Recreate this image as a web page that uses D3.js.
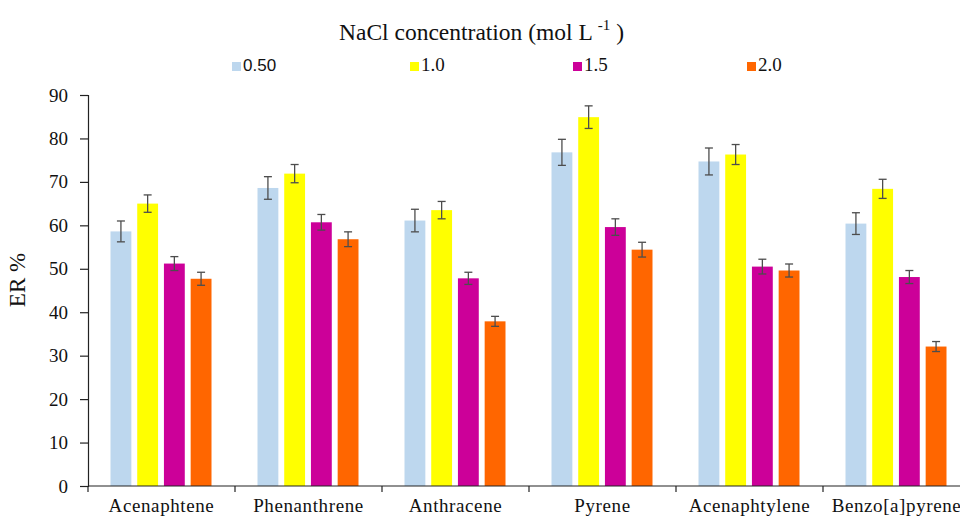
<!DOCTYPE html>
<html>
<head>
<meta charset="utf-8">
<script src="https://cdn.jsdelivr.net/npm/d3@7"></script>
<style>
  body { margin: 0; background: #fff; }
  svg { display: block; }
</style>
</head>
<body>
<div id="chart"></div>
<script>
// data
var categories = ["Acenaphtene", "Phenanthrene", "Anthracene", "Pyrene", "Acenaphtylene", "Benzo[a]pyrene"];
var seriesNames = ["0.50", "1.0", "1.5", "2.0"];
var seriesColors = ["#bdd7ee", "#ffff00", "#cc0099", "#ff6600"];

var values050 = [58.6, 68.6, 61.1, 76.8, 74.7, 60.4];
var values10  = [65.0, 71.9, 63.5, 84.9, 76.3, 68.4];
var values15  = [51.2, 60.7, 47.8, 59.6, 50.5, 48.1];
var values20  = [47.7, 56.8, 37.9, 54.4, 49.6, 32.1];

var errors050 = [2.4, 2.6, 2.6, 3.0, 3.1, 2.5];
var errors10  = [2.0, 2.1, 2.0, 2.6, 2.3, 2.2];
var errors15  = [1.6, 1.8, 1.4, 1.9, 1.7, 1.5];
var errors20  = [1.5, 1.7, 1.15, 1.7, 1.5, 1.15];

var yTicks = [0, 10, 20, 30, 40, 50, 60, 70, 80, 90];

var allValues = [values050, values10, values15, values20];
var allErrors = [errors050, errors10, errors15, errors20];

var serif = "'Liberation Serif', 'Times New Roman', serif";
var width = 960, height = 519;
var margin = {left: 88, top: 95, bottom: 486, right: 970};

var svg = d3.select("#chart").append("svg")
    .attr("width", width)
    .attr("height", height);

var x0 = d3.scaleBand()
    .domain(categories)
    .range([margin.left, margin.right])
    .paddingInner(0)
    .paddingOuter(0);

var x1 = d3.scaleBand()
    .domain(seriesNames)
    .range([22.5, x0.bandwidth() - 23.5])
    .paddingInner(0.22);

var y = d3.scaleLinear()
    .domain([0, 90])
    .range([margin.bottom, margin.top]);

// bars
var rows = [];
categories.forEach(function(c, i) {
    seriesNames.forEach(function(s, j) {
        rows.push({cat: c, ser: s, idx: j, v: allValues[j][i], e: allErrors[j][i]});
    });
});

svg.append("g").selectAll("rect")
    .data(rows)
    .enter().append("rect")
    .attr("x", function(d){ return x0(d.cat) + x1(d.ser); })
    .attr("width", x1.bandwidth())
    .attr("y", function(d){ return y(d.v); })
    .attr("height", function(d){ return y(0) - y(d.v); })
    .attr("fill", function(d){ return seriesColors[d.idx]; });

// error bars
var eb = svg.append("g").attr("stroke", "#4d4d4d").attr("stroke-width", 1.3);
rows.forEach(function(d) {
    var cx = x0(d.cat) + x1(d.ser) + x1.bandwidth() / 2;
    eb.append("line").attr("x1", cx).attr("x2", cx)
        .attr("y1", y(d.v + d.e)).attr("y2", y(d.v - d.e));
    eb.append("line").attr("x1", cx - 4).attr("x2", cx + 4)
        .attr("y1", y(d.v + d.e)).attr("y2", y(d.v + d.e));
    eb.append("line").attr("x1", cx - 4).attr("x2", cx + 4)
        .attr("y1", y(d.v - d.e)).attr("y2", y(d.v - d.e));
});

// y axis
var yAxis = svg.append("g")
    .attr("transform", "translate(" + margin.left + ",0)")
    .call(d3.axisLeft(y).tickValues(yTicks).tickSize(8).tickPadding(12));
yAxis.attr("font-family", serif).attr("font-size", 19);
yAxis.selectAll("text").attr("fill", "#111");
yAxis.selectAll("line, path").attr("stroke", "#222").attr("stroke-width", 1.2);

// x axis: ticks on category boundaries
var boundaries = categories.map(function(c){ return x0(c); });
var xAxisG = svg.append("g").attr("transform", "translate(0," + margin.bottom + ")");
xAxisG.append("line")
    .attr("x1", margin.left).attr("x2", margin.right)
    .attr("stroke", "#222").attr("stroke-width", 1.2);
xAxisG.selectAll(".bt").data(boundaries).enter().append("line")
    .attr("x1", function(d){ return d; }).attr("x2", function(d){ return d; })
    .attr("y1", 0).attr("y2", 6)
    .attr("stroke", "#222").attr("stroke-width", 1.2);
xAxisG.selectAll("text").data(categories).enter().append("text")
    .attr("x", function(c){ return x0(c) + x0.bandwidth() / 2; })
    .attr("y", 26)
    .attr("text-anchor", "middle")
    .attr("font-family", serif)
    .attr("font-size", 19)
    .attr("letter-spacing", 0.6)
    .attr("fill", "#111")
    .text(function(c){ return c; });

// y axis title
svg.append("text")
    .attr("transform", "translate(25,280) rotate(-90)")
    .attr("text-anchor", "middle")
    .attr("font-family", serif)
    .attr("font-size", 23)
    .attr("fill", "#111")
    .text("ER %");

// legend title
var title = svg.append("text")
    .attr("x", 339).attr("y", 40)
    .attr("font-family", serif)
    .attr("font-size", 23.5)
    .attr("fill", "#111");
title.append("tspan").text("NaCl concentration (mol L ");
title.append("tspan").attr("dy", -10).attr("font-size", 15).text("-1");
title.append("tspan").attr("dy", 10).text(" )");

// legend
var legendX = [232, 410, 573, 747];
var legend = svg.append("g").selectAll("g")
    .data(seriesNames)
    .enter().append("g")
    .attr("transform", function(d, i){ return "translate(" + legendX[i] + ",60)"; });
legend.append("rect")
    .attr("width", 9).attr("height", 9).attr("y", 2)
    .attr("fill", function(d, i){ return seriesColors[i]; });
legend.append("text")
    .attr("x", 11).attr("y", 11)
    .attr("font-family", function(d, i){ return i === 0 ? "'Liberation Sans', Arial, sans-serif" : serif; })
    .attr("font-size", function(d, i){ return i === 0 ? 17 : 19; })
    .attr("fill", "#111")
    .text(function(d){ return d; });
</script>
</body>
</html>
